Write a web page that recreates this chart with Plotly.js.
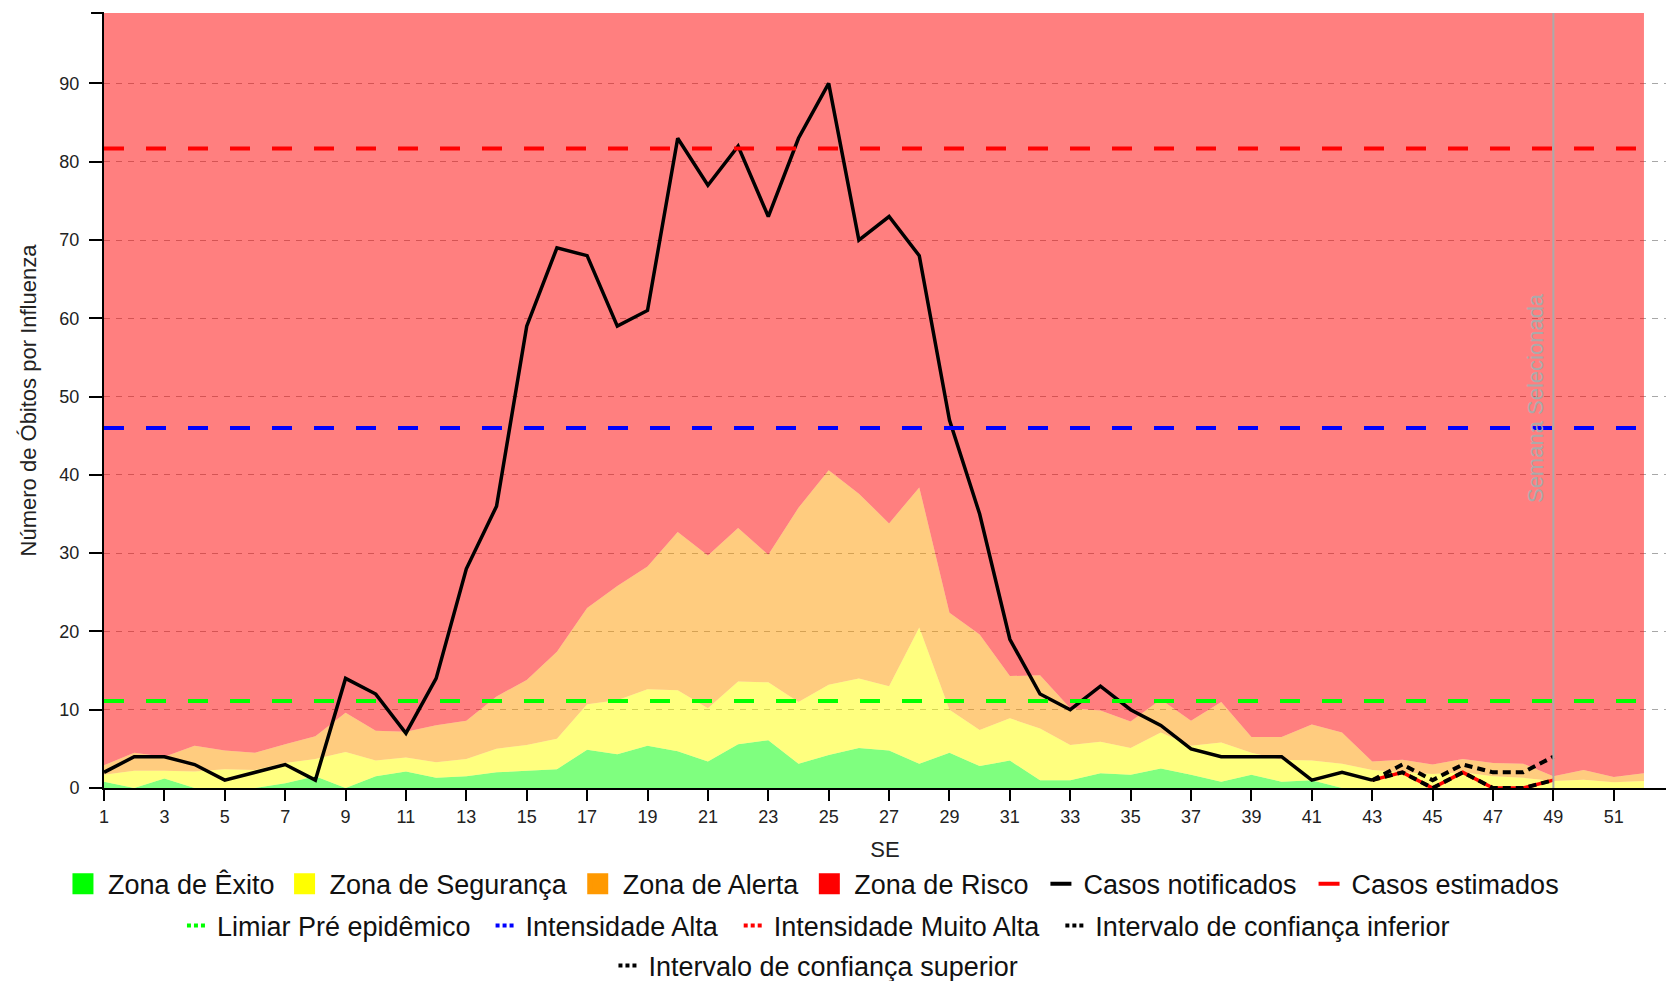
<!DOCTYPE html>
<html>
<head>
<meta charset="utf-8">
<script src="https://cdn.plot.ly/plotly-3.0.1.min.js"></script>
<style>
html, body { margin: 0; padding: 0; background: #ffffff; }
#chart { width: 1669px; height: 981px; }
</style>
</head>
<body>
<div id="chart"></div>
<script>
// ---------- DATA ----------
const semanas = [1,2,3,4,5,6,7,8,9,10,11,12,13,14,15,16,17,18,19,20,21,22,23,24,25,26,
  27,28,29,30,31,32,33,34,35,36,37,38,39,40,41,42,43,44,45,46,47,48,49,50,51,52];

// upper boundaries of the stacked zones (cumulative)
const zonaExito = [0.8,0,1.2,0,0,0,0.6,1.5,0,1.5, 2.1,1.3,1.5,2,2.2,2.4,4.9,4.3,5.4,4.7,
  3.4,5.6,6.1,3.1,4.2,5.1,4.8,3.1,4.5,2.8, 3.5,1,1,1.9,1.7,2.5,1.7,0.8,1.7,0.8,
  1,0,0,0,0,0,0,0,0,0,0,0];
const zonaSeguranca = [1.7,2.2,2.2,2.1,2.4,2.3,3.2,3.7,4.6,3.5, 3.9,3.3,3.7,5,5.5,6.3,10.7,11.2,12.6,12.5,
  10.2,13.6,13.5,11,13.2,14,13,20.5,10,7.4, 8.9,7.6,5.5,5.9,5.1,7.1,5.4,5.8,4.5,3.6,
  3.5,3.1,2.3,2,1.8,2,1.5,1.3,0.9,1.05,0.75,0.9];
const zonaAlerta = [2.9,4.5,4,5.4,4.8,4.5,5.6,6.6,9.6,7.3, 7.2,8,8.6,11.7,13.8,17.4,23,25.8,28.3,32.7,
  29.7,33.2,29.8,35.8,40.6,37.6,33.8,38.4,22.4,19.6, 14.3,14.4,10.2,9.9,8.5,11.3,8.6,11,6.5,6.5,
  8.1,7.1,3.4,3.6,3,3.7,3.2,3.1,1.5,2.3,1.4,1.9];
const zonaRisco = [100,100,100,100,100,100,100,100,100,100,100,100,100,100,100,100,100,100,100,100,
  100,100,100,100,100,100,100,100,100,100,100,100,100,100,100,100,100,100,100,100,
  100,100,100,100,100,100,100,100,100,100,100,100];

const semanasNotificadas = [1,2,3,4,5,6,7,8,9,10,11,12,13,14,15,16,17,18,19,20,21,22,
  23,24,25,26,27,28,29,30,31,32,33,34,35,36,37,38,39,40,41,42,43];
const casosNotificados = [2,4,4,3,1,2,3,1,14,12, 7,14,28,36,59,69,68,59,61,83,
  77,82,73,83,90,70,73,68,47,35, 19,12,10,13,10,8,5,4,4,4, 1,2,1];

const semanasEstimadas = [43,44,45,46,47,48,49];
const casosEstimados = [1,2,0,2,0,0,1];
const icInferior = [1,2,0,2,0,0,1];
const icSuperior = [1,3,1,3,2,2,4];

const limiarPreEpidemico = 11.1;
const intensidadeAlta = 46;
const intensidadeMuitoAlta = 81.7;
const semanaSelecionada = 49;

const xTickVals = [1,3,5,7,9,11,13,15,17,19,21,23,25,27,29,31,33,35,37,39,41,43,45,47,49,51];
const yTickVals = [0,10,20,30,40,50,60,70,80,90];

// ---------- TRACES ----------
const FONT = 'Liberation Sans, Arial, sans-serif';
const traces = [];
function area(y, fill, color) {
  return { x: semanas, y: y, type: 'scatter', mode: 'lines', fill: fill,
    fillcolor: color, line: { width: 0, color: color }, showlegend: false, hoverinfo: 'skip' };
}
traces.push(area(zonaExito, 'tozeroy', 'rgba(0,255,0,0.5)'));
traces.push(area(zonaSeguranca, 'tonexty', 'rgba(255,255,0,0.5)'));
traces.push(area(zonaAlerta, 'tonexty', 'rgba(255,153,0,0.5)'));
traces.push(area(zonaRisco, 'tonexty', 'rgba(255,0,0,0.5)'));

traces.push({ x: semanasNotificadas, y: casosNotificados, type: 'scatter', mode: 'lines',
  line: { color: '#000000', width: 3.5 }, showlegend: false });
traces.push({ x: semanasEstimadas, y: casosEstimados, type: 'scatter', mode: 'lines',
  line: { color: '#ff0000', width: 3.5 }, showlegend: false });

function hline(v, color) {
  return { x: [semanas[0], semanas[semanas.length - 1]], y: [v, v], type: 'scatter', mode: 'lines',
    line: { color: color, width: 4, dash: '20px,22px' }, showlegend: false, hoverinfo: 'skip' };
}
traces.push(hline(limiarPreEpidemico, '#00ff00'));
traces.push(hline(intensidadeAlta, '#0000ff'));
traces.push(hline(intensidadeMuitoAlta, '#ff0000'));

traces.push({ x: semanasEstimadas, y: icInferior, type: 'scatter', mode: 'lines',
  line: { color: '#000000', width: 4, dash: '8px,5px' }, showlegend: false });
traces.push({ x: semanasEstimadas, y: icSuperior, type: 'scatter', mode: 'lines',
  line: { color: '#000000', width: 4, dash: '8px,5px' }, showlegend: false });

// legend entries
const SOLID_KEY = '0px,12px,21px,300px';
const DOT_KEY = '0px,15px,4px,3px,4px,3px,4px,300px';
function sq(name, color) {
  return { x: [null], y: [null], type: 'scatter', mode: 'markers', name: name, legend: 'legend',
    marker: { symbol: 'square', size: 16, color: color, line: { color: color, width: 5 } } };
}
function ln(name, color, dash, lg) {
  return { x: [null], y: [null], type: 'scatter', mode: 'lines', name: name, legend: lg,
    line: { color: color, width: 4, dash: dash } };
}
traces.push(sq('Zona de Êxito', '#00ff00'));
traces.push(sq('Zona de Segurança', '#ffff00'));
traces.push(sq('Zona de Alerta', '#ff9900'));
traces.push(sq('Zona de Risco', '#ff0000'));
traces.push(ln('Casos notificados', '#000000', SOLID_KEY, 'legend'));
traces.push(ln('Casos estimados', '#ff0000', SOLID_KEY, 'legend'));
traces.push(ln('Limiar Pré epidêmico', '#00ff00', DOT_KEY, 'legend2'));
traces.push(ln('Intensidade Alta', '#0000ff', DOT_KEY, 'legend2'));
traces.push(ln('Intensidade Muito Alta', '#ff0000', DOT_KEY, 'legend2'));
traces.push(ln('Intervalo de confiança inferior', '#000000', DOT_KEY, 'legend2'));
traces.push(ln('Intervalo de confiança superior', '#000000', DOT_KEY, 'legend3'));

const legendBase = { orientation: 'h', x: 0.4526, xanchor: 'center', yanchor: 'middle',
  traceorder: 'normal', itemwidth: 40,
  font: { family: FONT, size: 27, color: '#111' }, bgcolor: 'rgba(0,0,0,0)', borderwidth: 0,
  itemclick: false, itemdoubleclick: false };

const layout = {
  width: 1669, height: 981,
  margin: { l: 104, r: 3, t: 13, b: 193, autoexpand: false },
  paper_bgcolor: '#ffffff', plot_bgcolor: '#ffffff',
  font: { family: FONT, size: 18, color: '#222' },
  xaxis: {
    range: [1, 52.73], tickmode: 'array', tickvals: xTickVals,
    showgrid: false, zeroline: false, showline: true, linecolor: '#000', linewidth: 2,
    ticks: 'outside', ticklen: 11, tickwidth: 2, tickcolor: '#000',
    tickfont: { family: FONT, size: 18, color: '#222' },
    title: { text: 'SE', font: { family: FONT, size: 22, color: '#222' }, standoff: 16 },
    automargin: false
  },
  yaxis: {
    range: [0, 99], tickmode: 'array', tickvals: yTickVals,
    showgrid: true, gridcolor: '#a8a8a8', gridwidth: 1, griddash: '6px,6px',
    zeroline: false, showline: true, linecolor: '#000', linewidth: 2,
    ticks: 'outside', ticklen: 13, tickwidth: 2, tickcolor: '#000', ticklabelstandoff: 6,
    tickfont: { family: FONT, size: 18, color: '#222' },
    title: { text: 'Número de Óbitos por Influenza', font: { family: FONT, size: 22, color: '#222' }, standoff: 17 },
    automargin: false
  },
  shapes: [
    { type: 'line', xref: 'x', yref: 'paper', x0: semanaSelecionada, x1: semanaSelecionada, y0: 0, y1: 1,
      line: { color: '#aaaaaa', width: 2 } },
    { type: 'line', xref: 'paper', yref: 'paper', x0: -0.0083, x1: 0, y0: 1, y1: 1,
      line: { color: '#000', width: 2 } }
  ],
  annotations: [
    { text: 'Semana Selecionada', xref: 'x', yref: 'paper', x: semanaSelecionada, y: 0.503,
      textangle: -90, xanchor: 'right', yanchor: 'middle', xshift: -4, showarrow: false,
      font: { family: FONT, size: 22, color: '#aaaaaa' } }
  ],
  legend: Object.assign({}, legendBase, { y: -0.124 }),
  legend2: Object.assign({}, legendBase, { y: -0.178 }),
  legend3: Object.assign({}, legendBase, { y: -0.2297 }),
  hovermode: false
};

Plotly.newPlot('chart', traces, layout, { displayModeBar: false, staticPlot: true });
</script>
</body>
</html>
